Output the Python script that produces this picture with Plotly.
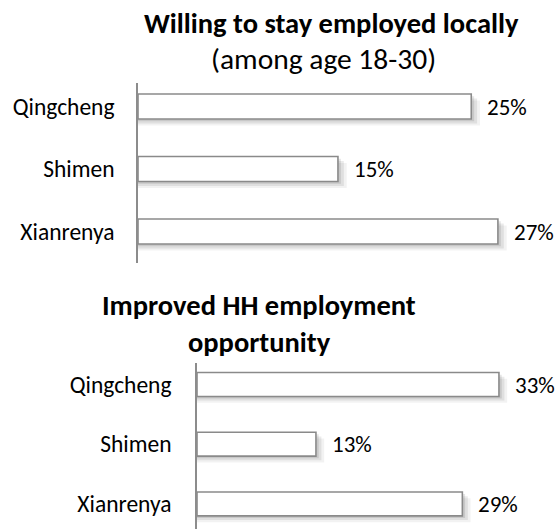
import plotly.graph_objects as go

# Survey results by township
towns = ["Qingcheng", "Shimen", "Xianrenya"]
stay_local_pct = [25, 15, 27]          # willing to stay employed locally (age 18-30)
hh_employment_pct = [33, 13, 29]       # improved household employment opportunity

W, H = 559, 529
FONT = "Carlito, Calibri, Lato, sans-serif"
BAR_LINE = "#8a8a8a"
AXIS_LINE = "#8c8c8c"


def py(px):
    """Convert a pixel row (from top) to paper y."""
    return 1 - px / H


def px_x(px):
    return px / W


fig = go.Figure()

panels = [
    dict(vals=stay_local_pct, xa="x", ya="y", shadow_dx=0.22),
    dict(vals=hh_employment_pct, xa="x2", ya="y2", shadow_dx=0.3),
]

for p in panels:
    # soft drop shadow under each bar, built from the same values
    for k, alpha in enumerate([0.10, 0.08, 0.05]):
        fig.add_trace(go.Bar(
            x=[v + p["shadow_dx"] * (k + 1) for v in p["vals"]], y=towns,
            orientation="h", width=0.4, offset=-0.2 + 0.035 * (k + 1),
            marker=dict(color=f"rgba(0,0,0,{alpha})", line=dict(width=0)),
            xaxis=p["xa"], yaxis=p["ya"], hoverinfo="skip", showlegend=False,
        ))
    fig.add_trace(go.Bar(
        x=p["vals"], y=towns, orientation="h", width=0.4, offset=-0.2,
        marker=dict(color="white", line=dict(color=BAR_LINE, width=1.6)),
        xaxis=p["xa"], yaxis=p["ya"], showlegend=False,
    ))

annotations = []
for p in panels:
    for t, v in zip(towns, p["vals"]):
        annotations.append(dict(
            x=v, y=t, xref=p["xa"], yref=p["ya"], text=f"{v}%",
            showarrow=False, xanchor="left", yanchor="middle", xshift=14,
            font=dict(family=FONT, size=23, color="#000000"),
        ))

titles = [
    ("<b>Willing to stay employed locally</b>", 331, 24, 28.5),
    ("(among age 18-30)", 323, 59, 29.5),
    ("<b>Improved HH employment</b>", 259, 305, 28.5),
    ("<b>opportunity</b>", 259, 342, 28.5),
]
for txt, cx, cy, sz in titles:
    annotations.append(dict(
        x=px_x(cx), y=py(cy), xref="paper", yref="paper", text=txt,
        showarrow=False, xanchor="center", yanchor="middle",
        font=dict(family=FONT, size=sz, color="#000000"),
    ))

common_x = dict(showgrid=False, zeroline=False, showticklabels=False,
                showline=False, fixedrange=True)
common_y = dict(type="category", showgrid=False, zeroline=False,
                showline=True, linecolor=AXIS_LINE, linewidth=1.5,
                ticks="", tickfont=dict(family=FONT, size=23.5, color="#000000"),
                fixedrange=True)

fig.update_layout(
    width=W, height=H,
    margin=dict(l=0, r=0, t=0, b=0),
    paper_bgcolor="white", plot_bgcolor="rgba(0,0,0,0)",
    barmode="overlay", showlegend=False,
    xaxis=dict(domain=[px_x(138), 1], range=[0, 421 / 13.33], anchor="y", **common_x),
    yaxis=dict(domain=[py(262.75), py(82.75)], range=[2.5, -0.38], anchor="x",
               ticklabelstandoff=17, **common_y),
    xaxis2=dict(domain=[px_x(197), 1], range=[0, 362 / 9.15], anchor="y2", **common_x),
    yaxis2=dict(domain=[0, py(363)], range=[2.42, -0.36], anchor="x2",
                ticklabelstandoff=19, **common_y),
    annotations=annotations,
)

fig.write_html("out.html")
